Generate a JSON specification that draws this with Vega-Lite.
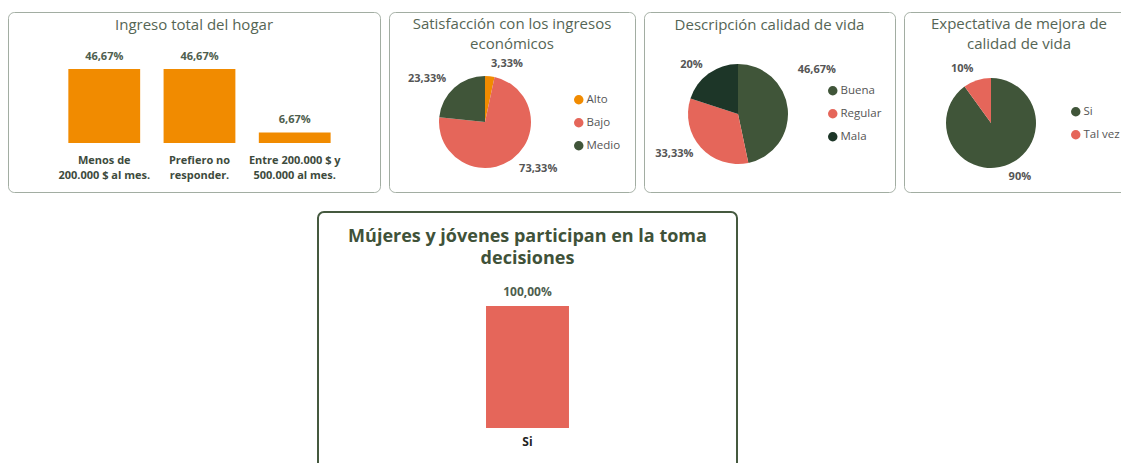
{
  "$schema": "https://vega.github.io/schema/vega-lite/v6.json",
  "padding": {"left": 7, "top": 11, "right": 0, "bottom": 0},
  "background": "white",
  "config": {
    "font": "Open Sans",
    "locale": {"number": {"decimal": ",", "thousands": ".", "grouping": [3], "currency": ["", " $"]}},
    "title": {"font": "Open Sans", "anchor": "middle", "frame": "group", "fontWeight": "normal", "color": "#556555", "fontSize": 15, "lineHeight": 20},
    "legend": {"title": null, "symbolType": "circle", "symbolSize": 90, "labelFontSize": 11.5, "labelColor": "#555555", "labelFont": "Open Sans", "rowPadding": 10, "labelOffset": 2, "orient": "none"}
  },
  "datasets": {
    "ingreso": [
      {"cat": "Menos de 200.000 $ al mes.", "v": 0.4667},
      {"cat": "Prefiero no responder.", "v": 0.4667},
      {"cat": "Entre 200.000 $ y 500.000 al mes.", "v": 0.0667}
    ],
    "satisf": [
      {"cat": "Alto", "v": 0.0333},
      {"cat": "Bajo", "v": 0.7333},
      {"cat": "Medio", "v": 0.2333}
    ],
    "calidad": [
      {"cat": "Buena", "v": 0.4667},
      {"cat": "Regular", "v": 0.3333},
      {"cat": "Mala", "v": 0.2}
    ],
    "expectativa": [
      {"cat": "Si", "v": 0.9},
      {"cat": "Tal vez", "v": 0.1}
    ],
    "mujeres": [
      {"cat": "Si", "v": 1.0}
    ]
  },
  "resolve": {"scale": {"color": "independent"}, "legend": {"color": "independent"}},
  "spacing": 18,
  "vconcat": [
    {
      "spacing": 7,
      "resolve": {"scale": {"color": "independent"}, "legend": {"color": "independent"}},
      "hconcat": [
        {
          "width": 372, "height": 180,
          "view": {"stroke": "#a2ada2", "cornerRadius": 6, "strokeWidth": 1},
          "title": {"text": "Ingreso total del hogar", "offset": -21},
          "data": {"name": "ingreso"},
          "encoding": {
            "x": {"field": "cat", "type": "nominal", "sort": null,
              "scale": {"paddingInner": 0.246, "paddingOuter": 0.576, "align": 0.55},
              "axis": {"title": null, "offset": -49, "domain": false, "ticks": false, "labelAngle": 0, "labelPadding": 11,
                "labelFontSize": 11, "labelFontWeight": "bold", "labelColor": "#3d4b3d", "labelLineHeight": 15,
                "labelExpr": "datum.value == 'Menos de 200.000 $ al mes.' ? ['Menos de', '200.000 $ al mes.'] : datum.value == 'Prefiero no responder.' ? ['Prefiero no', 'responder.'] : ['Entre 200.000 $ y', '500.000 al mes.']"}},
            "y": {"field": "v", "type": "quantitative", "scale": {"domain": [-0.309, 0.826]}, "axis": null}
          },
          "layer": [
            {"mark": {"type": "bar", "color": "#F18B00"}, "encoding": {"y2": {"datum": 0}}},
            {"mark": {"type": "text", "baseline": "bottom", "dy": -7, "fontSize": 11, "fontWeight": "bold", "color": "#4e5e4e"},
             "encoding": {"text": {"field": "v", "type": "quantitative", "format": ".2%"}}}
          ]
        },
        {
          "width": 246, "height": 180,
          "view": {"stroke": "#a2ada2", "cornerRadius": 6, "strokeWidth": 1},
          "title": {"text": ["Satisfacción con los ingresos", "económicos"], "offset": -40},
          "data": {"name": "satisf"},
          "encoding": {
            "theta": {"field": "v", "type": "quantitative", "stack": true},
            "order": {"field": "cat", "type": "nominal", "sort": "ascending"}
          },
          "layer": [
            {"mark": {"type": "arc", "outerRadius": 46, "x": 96, "y": 110},
             "encoding": {"color": {"field": "cat", "type": "nominal",
               "scale": {"domain": ["Alto", "Bajo", "Medio"], "range": ["#F18B00", "#E5665A", "#405539"]},
               "legend": {"legendX": 184, "legendY": 82}}}},
            {"mark": {"type": "text", "radius": 58, "x": 96, "y": 110, "baseline": "middle", "fontSize": 11, "fontWeight": "bold", "color": "#555555",
              "align": {"expr": "(datum.v_start + datum.v_end) / 2 < 0.5 ? 'left' : 'right'"}},
             "encoding": {"detail": {"field": "cat", "type": "nominal"}, "text": {"field": "v", "type": "quantitative", "format": ".2~%"}}}
          ]
        },
        {
          "width": 251, "height": 180,
          "view": {"stroke": "#a2ada2", "cornerRadius": 6, "strokeWidth": 1},
          "title": {"text": "Descripción calidad de vida", "offset": -21},
          "data": {"name": "calidad"},
          "encoding": {
            "theta": {"field": "v", "type": "quantitative", "stack": true},
            "order": {"field": "v", "type": "quantitative", "sort": "descending"}
          },
          "layer": [
            {"mark": {"type": "arc", "outerRadius": 50, "x": 94, "y": 102},
             "encoding": {"color": {"field": "cat", "type": "nominal",
               "scale": {"domain": ["Buena", "Regular", "Mala"], "range": ["#405539", "#E5665A", "#1D3628"]},
               "legend": {"legendX": 183, "legendY": 73}}}},
            {"mark": {"type": "text", "radius": 60, "x": 94, "y": 102, "baseline": "middle", "fontSize": 11, "fontWeight": "bold", "color": "#555555",
              "align": {"expr": "(datum.v_start + datum.v_end) / 2 < 0.5 ? 'left' : 'right'"},
              "dy": {"expr": "abs((datum.v_start + datum.v_end) / 2 - 0.25) < 0.08 ? -38 : 0"}},
             "encoding": {"detail": {"field": "cat", "type": "nominal"}, "text": {"field": "v", "type": "quantitative", "format": ".2~%"}}}
          ]
        },
        {
          "width": 230, "height": 180,
          "view": {"stroke": "#a2ada2", "cornerRadius": 6, "strokeWidth": 1},
          "title": {"text": ["Expectativa de mejora de", "calidad de vida"], "offset": -40},
          "data": {"name": "expectativa"},
          "encoding": {
            "theta": {"field": "v", "type": "quantitative", "stack": true},
            "order": {"field": "v", "type": "quantitative", "sort": "descending"}
          },
          "layer": [
            {"mark": {"type": "arc", "outerRadius": 45, "x": 87, "y": 111},
             "encoding": {"color": {"field": "cat", "type": "nominal",
               "scale": {"domain": ["Si", "Tal vez"], "range": ["#405539", "#E5665A"]},
               "legend": {"legendX": 166, "legendY": 94}}}},
            {"mark": {"type": "text", "radius": 57, "x": 87, "y": 111, "baseline": "middle", "fontSize": 11, "fontWeight": "bold", "color": "#555555",
              "align": {"expr": "(datum.v_start + datum.v_end) / 2 < 0.5 ? 'left' : 'right'"}},
             "encoding": {"detail": {"field": "cat", "type": "nominal"}, "text": {"field": "v", "type": "quantitative", "format": ".2~%"}}}
          ]
        }
      ]
    },
    {
      "spacing": 9,
      "hconcat": [
        {
          "width": 300, "height": 10,
          "view": {"stroke": null},
          "data": {"values": []},
          "mark": "point"
        },
        {
          "width": 419, "height": 260,
          "view": {"stroke": "#45593f", "cornerRadius": 6, "strokeWidth": 2},
          "title": {"text": ["Mújeres y jóvenes participan en la toma", "decisiones"], "offset": -56, "fontSize": 18, "fontWeight": "bold", "color": "#3f5239", "lineHeight": 22},
          "data": {"name": "mujeres"},
          "encoding": {
            "x": {"field": "cat", "type": "nominal",
              "scale": {"paddingInner": 0, "paddingOuter": 1},
              "axis": {"title": null, "offset": -44, "domain": false, "ticks": false, "labelAngle": 0, "labelPadding": 8,
                "labelFontSize": 12, "labelFontWeight": "bold", "labelColor": "#222222"}},
            "y": {"field": "v", "type": "quantitative", "scale": {"domain": [-0.3607, 1.7705]}, "axis": null}
          },
          "layer": [
            {"mark": {"type": "bar", "color": "#E5665A", "width": {"band": 0.594}}, "encoding": {"y2": {"datum": 0}}},
            {"mark": {"type": "text", "baseline": "bottom", "dy": -7, "fontSize": 12, "fontWeight": "bold", "color": "#4e5e4e"},
             "encoding": {"text": {"field": "v", "type": "quantitative", "format": ".2%"}}}
          ]
        }
      ]
    }
  ]
}
